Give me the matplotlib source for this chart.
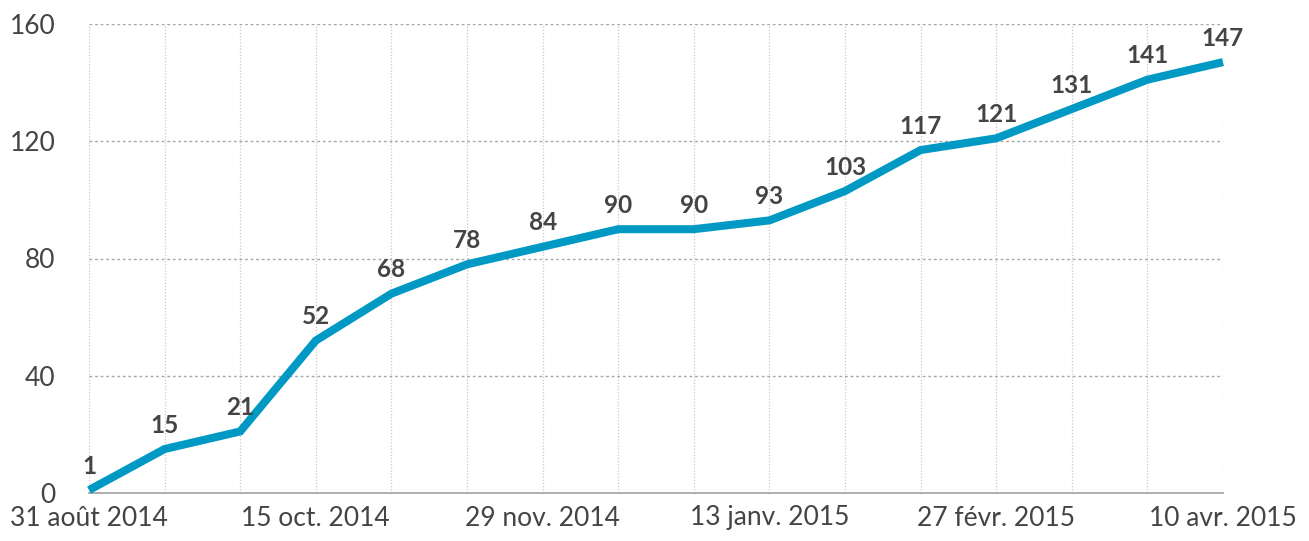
import matplotlib
matplotlib.use("Agg")
import matplotlib.pyplot as plt

dates = ["31 août 2014", "", "", "15 oct. 2014", "", "", "29 nov. 2014", "", "",
         "13 janv. 2015", "", "", "27 févr. 2015", "", "", "10 avr. 2015"]
values = [1, 15, 21, 52, 68, 78, 84, 90, 90, 93, 103, 117, 121, 131, 141, 147]
yticks = [0, 40, 80, 120, 160]

plt.rcParams['font.family'] = ['Lato', 'DejaVu Sans']

fig = plt.figure(figsize=(13.09, 5.41), dpi=100)
ax = fig.add_axes([89/1309, 48/541, (1223-89)/1309, (493-24)/541])

x = list(range(len(values)))
ax.set_xlim(0, len(values) - 1)
ax.set_ylim(0, 160)

for xi in x:
    ax.axvline(xi, color="#c8c8c8", lw=0.9, ls=(0, (1, 1.5)), zorder=1)
for yv in yticks[1:]:
    ax.axhline(yv, color="#a8a8a8", lw=1.0, ls=(0, (2, 2)), zorder=1)

ax.plot(x, values, color="#0099c4", lw=5.8, solid_capstyle="butt",
        solid_joinstyle="miter", clip_on=False, zorder=3)

for xi, v in zip(x, values):
    ax.annotate(str(v), (xi, v), xytext=(0, 9), textcoords="offset points",
                ha="center", va="bottom", fontsize=17.5, fontweight="bold",
                color="#444444", zorder=4)

for s in ["top", "right", "left"]:
    ax.spines[s].set_visible(False)
ax.spines["bottom"].set_color("#a0a0a0")
ax.spines["bottom"].set_linewidth(1.2)

ax.set_xticks(x)
ax.set_xticklabels(dates)
ax.set_yticks(yticks)
ax.tick_params(axis="both", length=0, labelsize=19, colors="#444444")
ax.tick_params(axis="y", pad=24)
ax.tick_params(axis="x", pad=9)

fig.savefig("out.png", dpi=100)
